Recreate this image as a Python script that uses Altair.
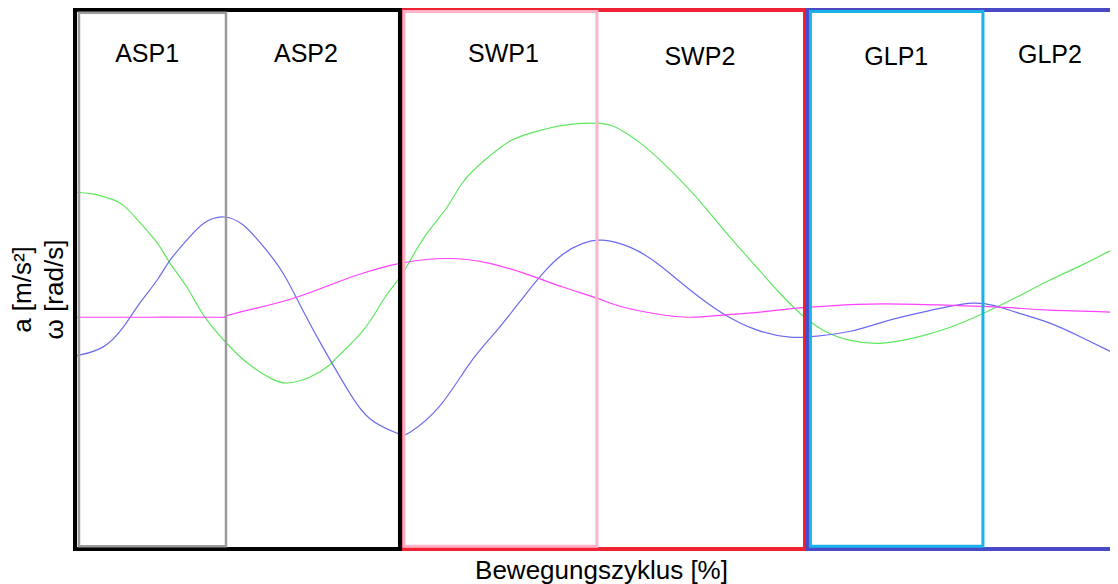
import altair as alt
import pandas as pd

# ---- curve data (x in % of movement cycle, y in arbitrary units) ----
green_x = [0, 0.5, 1.7, 3.2, 4.6, 6.2, 7.9, 9.1, 10.7, 12.3, 14.4, 16.5, 18.7, 20.3, 22.5, 24.4,
           25.1, 27.6, 29.5, 31.1, 32.1, 33.7, 35.6, 37.1, 39.0, 41.3, 43.5, 46.7, 50.0, 51.9,
           54.1, 56.3, 58.6, 60.5, 62.7, 64.9, 67.2, 69.4, 71.6, 74.2, 77.3, 80.6, 83.7, 86.9,
           90.1, 93.3, 96.5, 100.0]
green_y = [2.32, 2.31, 2.29, 2.21, 2.08, 1.76, 1.37, 1.00, 0.56, 0.04, -0.46, -0.85, -1.13, -1.22,
           -1.11, -0.88, -0.74, -0.24, 0.32, 0.74, 1.06, 1.56, 2.04, 2.50, 2.88, 3.23, 3.41, 3.56,
           3.60, 3.51, 3.23, 2.86, 2.41, 1.99, 1.48, 1.00, 0.50, 0.07, -0.24, -0.43, -0.48, -0.37,
           -0.19, 0.07, 0.37, 0.69, 0.98, 1.33]

blue_x = [0, 0.5, 2.7, 4.6, 6.2, 7.9, 9.1, 10.7, 12.3, 14.2, 16.1, 18.0, 19.9, 21.8, 23.7, 25.4,
          26.3, 28.2, 30.8, 32.1, 34.9, 37.8, 40.4, 42.9, 44.8, 46.7, 48.6, 50.5, 53.1, 55.7,
          58.9, 62.0, 65.3, 68.4, 71.0, 74.2, 77.3, 80.6, 83.7, 85.9, 87.9, 90.1, 93.3, 96.5, 100.0]
blue_y = [-0.72, -0.70, -0.55, -0.19, 0.26, 0.70, 1.06, 1.43, 1.74, 1.86, 1.71, 1.32, 0.82, 0.13,
          -0.55, -1.12, -1.41, -1.88, -2.15, -2.13, -1.65, -0.85, -0.24, 0.37, 0.82, 1.17, 1.37,
          1.43, 1.30, 1.00, 0.50, 0.07, -0.24, -0.37, -0.35, -0.26, -0.09, 0.07, 0.20, 0.26, 0.22,
          0.09, -0.11, -0.39, -0.72]

magenta_x = [0, 7.2, 13.9, 14.4, 17.4, 21.2, 25.1, 27.6, 31.1, 35.6, 39.7, 43.5, 46.7, 50.0, 52.4,
             55.7, 58.9, 62.0, 65.3, 69.1, 71.6, 74.8, 80.6, 86.9, 90.1, 93.3, 100.0]
magenta_y = [0.00, 0.00, 0.00, 0.02, 0.17, 0.37, 0.65, 0.82, 1.00, 1.09, 1.00, 0.78, 0.56, 0.35, 0.19,
             0.06, 0.00, 0.04, 0.09, 0.17, 0.20, 0.24, 0.24, 0.20, 0.17, 0.13, 0.09]

series_names = ["a (grün)", "ω (blau)", "a (magenta)"]
series_colors = ["#5ee85e", "#6b6bf0", "#ff40ff"]

# ---- phase boxes (drawn in the order given by box_z) ----
box_names = ["SWP", "GLP", "ASP", "ASP1", "SWP1", "GLP1"]
box_z = [1, 2, 3, 4, 5, 6]
box_x1 = [31.3, 70.1, 0.0, 0.38, 31.48, 70.38]
box_x2 = [69.86, 101.5, 31.1, 14.45, 49.95, 86.89]
box_y1 = [-4.3, -4.3, -4.3, -4.25, -4.25, -4.25]
box_y2 = [5.7, 5.7, 5.7, 5.65, 5.67, 5.67]
box_colors = ["#ee2233", "#4a4ac6", "#000000", "#9c9c9c", "#ffb3c8", "#1bb2ea"]
box_widths = [4, 4, 4, 2.5, 3, 3]

# ---- phase labels ----
label_text = ["ASP1", "ASP2", "SWP1", "SWP2", "GLP1", "GLP2"]
label_x = [6.9, 22.1, 41.0, 59.8, 78.6, 93.3]
label_y = [4.88, 4.88, 4.88, 4.82, 4.82, 4.86]

FONT = "Liberation Sans"

rows = []
for name, xs, ys in zip(series_names, [green_x, blue_x, magenta_x], [green_y, blue_y, magenta_y]):
    for xv, yv in zip(xs, ys):
        rows.append({"series": name, "x": xv, "y": yv})
curves = pd.DataFrame(rows)

boxes = pd.DataFrame({"name": box_names, "z": box_z, "x1": box_x1, "x2": box_x2, "y1": box_y1,
                      "y2": box_y2, "color": box_colors, "sw": box_widths})
labels = pd.DataFrame({"text": label_text, "x": label_x, "y": label_y})

xscale = alt.Scale(domain=[0, 99.05], nice=False, zero=False)
yscale = alt.Scale(domain=[-4.3, 5.7], nice=False, zero=False)

x_axis = alt.Axis(domain=False, ticks=False, labels=False, grid=False,
                  title="Bewegungszyklus [%]", titleFont=FONT, titleFontSize=26,
                  titleFontWeight="normal", titleColor="#000000",
                  titleX=526, titleY=29, titleBaseline="alphabetic", titleAlign="center")
y_axis = alt.Axis(domain=False, ticks=False, labels=False, grid=False,
                  title=["a [m/s²]", "ω [rad/s]"], titleFont=FONT, titleFontSize=26,
                  titleFontWeight="normal", titleColor="#000000", titleLineHeight=32,
                  titleX=-45, titleY=279, titleAngle=-90, titleBaseline="alphabetic",
                  titleAlign="center")

lines = alt.Chart(curves).mark_line(strokeWidth=1.2, interpolate="natural").encode(
    x=alt.X("x:Q", scale=xscale, axis=x_axis),
    y=alt.Y("y:Q", scale=yscale, axis=y_axis),
    color=alt.Color("series:N", scale=alt.Scale(domain=series_names, range=series_colors), legend=None),
)

rects = alt.Chart(boxes).mark_rect(fillOpacity=0).encode(
    x=alt.X("x1:Q", scale=xscale),
    x2="x2:Q",
    y=alt.Y("y1:Q", scale=yscale),
    y2="y2:Q",
    stroke=alt.Stroke("color:N", scale=None),
    strokeWidth=alt.StrokeWidth("sw:Q", scale=None),
    order=alt.Order("z:Q", sort="ascending"),
)

texts = alt.Chart(labels).mark_text(font=FONT, fontSize=25, color="#000000", baseline="middle",
                                    align="center").encode(
    x=alt.X("x:Q", scale=xscale),
    y=alt.Y("y:Q", scale=yscale),
    text="text:N",
)

chart = alt.layer(lines, rects, texts).properties(
    width=1035, height=539,
    autosize=alt.AutoSizeParams(type="none"),
    padding={"left": 67, "top": 2, "right": 0, "bottom": 35},
    background="#ffffff",
).configure_view(stroke=None)

chart.save("out.html", embed_options={"renderer": "svg", "actions": False})
